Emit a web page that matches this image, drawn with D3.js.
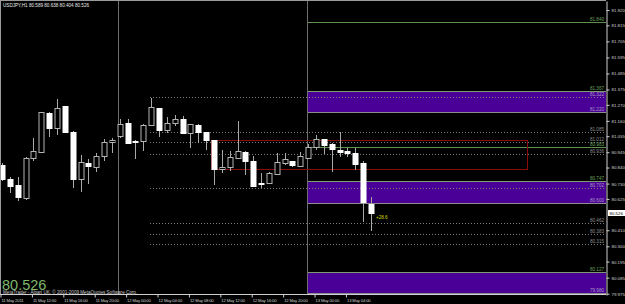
<!DOCTYPE html>
<html>
<head>
<meta charset="utf-8">
<script src="https://cdn.jsdelivr.net/npm/d3@7"></script>
<style>
  html, body { margin: 0; padding: 0; background: #000; }
  svg { display: block; }
  text { font-family: "Liberation Sans", Arial, sans-serif; }
</style>
</head>
<body>
<div id="chart"></div>
<script>
// ============================================================================
// DATA  (USDJPY, H1 candles)
// ============================================================================
const openP  = [80.858, 80.760, 80.719, 80.634, 80.908, 80.947, 81.214, 81.109, 81.260, 81.086,
                80.760, 80.869, 80.846, 80.919, 81.013, 81.054, 81.146, 81.024, 81.020, 81.130,
                81.246, 81.095, 81.143, 81.173, 81.079, 81.134, 81.082, 81.027, 80.830, 80.842,
                80.908, 80.949, 80.887, 80.736, 80.736, 80.798, 80.873, 80.883, 80.853, 80.908,
                80.979, 81.036, 80.999, 80.962, 80.954, 80.942, 80.869, 80.589];
const highP  = [80.870, 80.775, 80.773, 80.910, 81.041, 81.222, 81.220, 81.312, 81.262, 81.090,
                80.926, 80.897, 80.938, 81.034, 81.043, 81.171, 81.171, 81.026, 81.137, 81.315,
                81.249, 81.185, 81.200, 81.191, 81.141, 81.136, 81.084, 81.029, 80.960, 80.954,
                81.159, 80.952, 80.919, 80.803, 80.806, 80.942, 80.938, 80.886, 80.949, 80.999,
                81.063, 81.039, 81.010, 81.082, 80.972, 80.972, 80.887, 80.638];
const lowP   = [80.750, 80.664, 80.613, 80.616, 80.883, 80.944, 81.052, 81.065, 81.075, 80.702,
                80.675, 80.725, 80.812, 80.883, 80.938, 81.043, 81.005, 80.897, 80.954, 81.128,
                81.047, 81.079, 81.123, 81.070, 80.976, 81.008, 80.958, 80.719, 80.805, 80.819,
                80.901, 80.789, 80.713, 80.698, 80.733, 80.795, 80.858, 80.846, 80.850, 80.905,
                80.960, 80.935, 80.812, 80.915, 80.910, 80.823, 80.469, 80.404];
const closeP = [80.762, 80.716, 80.638, 80.908, 80.954, 81.219, 81.113, 81.246, 81.084, 80.760,
                80.878, 80.849, 80.917, 81.013, 81.027, 81.139, 81.010, 81.015, 81.134, 81.253,
                81.095, 81.143, 81.173, 81.079, 81.139, 81.082, 81.027, 80.828, 80.844, 80.910,
                80.954, 80.885, 80.716, 80.727, 80.803, 80.878, 80.897, 80.858, 80.917, 80.981,
                81.034, 80.995, 80.965, 80.949, 80.940, 80.867, 80.602, 80.526];

// price axis and time axis labels
const priceTicks = [81.920, 81.815, 81.705, 81.595, 81.485, 81.375, 81.270, 81.160, 81.055,
                    80.945, 80.840, 80.730, 80.625, 80.410, 80.300, 80.195, 80.085, 79.975];
const timeBars   = [0, 4, 8, 12, 16, 20, 24, 28, 32, 36, 40, 44];
const timeLabels = ["11 May 2011", "11 May 12:00", "11 May 16:00", "11 May 20:00",
                    "12 May 00:00", "12 May 04:00", "12 May 08:00", "12 May 12:00",
                    "12 May 16:00", "12 May 20:00", "13 May 00:00", "13 May 04:00"];

// objects on the chart
const separatorBars = [15, 39];
const zoneTop    = [81.367, 80.747, 80.127];
const zoneBottom = [81.220, 80.600, 79.980];
const zoneTopLabel    = ["81.367", "80.747", "80.127"];
const zoneBottomLabel = ["81.220", "80.600", "79.980"];
const greenLevels = [81.840, 80.983];
const dottedLevels = [81.322, 81.085, 81.012, 80.936, 80.702, 80.462, 80.383, 80.315];
const redBox = { fromBar: 26.65, toBar: 66.9, hi: 81.027, lo: 80.828 };
const lastPrice = 80.526;

// ============================================================================
// SIZE / SCALES
// ============================================================================
const W = 625, H = 304;
const plotRight = 606, plotBottom = 295;

const svg = d3.select('#chart').append('svg')
    .attr('width', W).attr('height', H);

svg.append('rect').attr('width', W).attr('height', H).attr('fill', '#000');

const x = d3.scaleLinear().domain([0, 47]).range([2, 371]);
const y = d3.scaleLinear().domain([79.966, 81.982]).range([plotBottom, 1]);

const zoneStart = Math.round(x(39)) - 1;
const dotStart = Math.round(x(18.85));

// ============================================================================
// ZONES, LEVELS
// ============================================================================
zoneTop.forEach((t, i) => {
    const y0 = Math.round(y(t)) + 0.5, y1 = Math.round(y(zoneBottom[i])) + 0.5;
    svg.append('rect')
        .attr('x', zoneStart).attr('y', y0)
        .attr('width', plotRight - zoneStart).attr('height', y1 - y0)
        .attr('fill', '#4a0096');
    svg.append('line')
        .attr('x1', zoneStart).attr('x2', plotRight).attr('y1', y0).attr('y2', y0)
        .attr('stroke', '#7d9a72').attr('stroke-width', 1);
    svg.append('line')
        .attr('x1', zoneStart).attr('x2', plotRight).attr('y1', y1).attr('y2', y1)
        .attr('stroke', '#8c8c8c').attr('stroke-width', 1);
});

dottedLevels.forEach(p => {
    const yy = Math.round(y(p)) + 0.5;
    svg.append('line')
        .attr('x1', dotStart).attr('x2', plotRight).attr('y1', yy).attr('y2', yy)
        .attr('stroke', '#7a7a7a').attr('stroke-width', 1)
        .attr('stroke-dasharray', '1,2');
});

greenLevels.forEach(p => {
    const yy = Math.round(y(p)) + 0.5;
    svg.append('line')
        .attr('x1', zoneStart).attr('x2', plotRight).attr('y1', yy).attr('y2', yy)
        .attr('stroke', '#5f9150').attr('stroke-width', 1);
});

// separators
separatorBars.forEach(b => {
    const xx = Math.floor(x(b)) - 0.5;
    svg.append('line')
        .attr('x1', xx).attr('x2', xx).attr('y1', 0).attr('y2', plotBottom)
        .attr('stroke', '#6e6e6e').attr('stroke-width', 1);
});

// red rectangle
svg.append('rect')
    .attr('x', Math.round(x(redBox.fromBar)) + 0.5)
    .attr('y', Math.round(y(redBox.hi)) + 0.5)
    .attr('width', Math.round(x(redBox.toBar) - x(redBox.fromBar)))
    .attr('height', Math.round(y(redBox.lo) - y(redBox.hi)))
    .attr('fill', 'none').attr('stroke', '#8b0a0a').attr('stroke-width', 1);

// ============================================================================
// CANDLES
// ============================================================================
const candles = openP.map((o, i) => ({ i, o, h: highP[i], l: lowP[i], c: closeP[i] }));

const cg = svg.append('g');
candles.forEach(d => {
    const cx = Math.round(x(d.i)) + 0.5;
    const bear = d.c < d.o;
    const top = Math.round(y(Math.max(d.o, d.c)));
    const bot = Math.round(y(Math.min(d.o, d.c)));
    cg.append('line')
        .attr('x1', cx).attr('x2', cx)
        .attr('y1', Math.round(y(d.h))).attr('y2', Math.round(y(d.l)))
        .attr('stroke', '#a9a9a9').attr('stroke-width', 1);
    cg.append('rect')
        .attr('x', cx - 2.5).attr('y', top + 0.5)
        .attr('width', 5).attr('height', Math.max(bot - top, 1))
        .attr('fill', bear ? '#ffffff' : '#000000')
        .attr('stroke', bear ? '#ffffff' : '#b4b4b4').attr('stroke-width', 1);
});

// ============================================================================
// LABELS ON LEVELS
// ============================================================================
const lab = (p, txt, col) => svg.append('text')
    .attr('x', plotRight - 2).attr('y', Math.round(y(p)) - 1)
    .attr('text-anchor', 'end').attr('fill', col)
    .style('font-size', '4.6px').text(txt);

greenLevels.forEach(p => lab(p, d3.format('.3f')(p), '#6fa35e'));
zoneTop.forEach((p, i) => lab(p, zoneTopLabel[i], '#6fa35e'));
zoneBottom.forEach((p, i) => lab(p, zoneBottomLabel[i], '#a99cc4'));
dottedLevels.forEach(p => lab(p, d3.format('.3f')(p),
    (p > 81.3 || (p > 80.69 && p < 80.71)) ? '#a99cc4' : '#8f8f8f'));

svg.append('text')
    .attr('x', x(47) + 5).attr('y', y(80.49))
    .attr('fill', '#d8d800').style('font-size', '4.6px').text('+28.6');

// ============================================================================
// AXES
// ============================================================================
svg.append('line').attr('x1', 0).attr('x2', plotRight).attr('y1', 0.5).attr('y2', 0.5)
    .attr('stroke', '#9a9a9a');
svg.append('line').attr('x1', 0.5).attr('x2', 0.5).attr('y1', 0).attr('y2', plotBottom)
    .attr('stroke', '#9a9a9a');

const yAxis = svg.append('g')
    .attr('transform', `translate(${plotRight + 0.5},0)`)
    .call(d3.axisRight(y).tickValues(priceTicks).tickFormat(d3.format('.3f'))
        .tickSize(3).tickPadding(2).tickSizeOuter(0));
yAxis.select('.domain').attr('stroke', '#d0d0d0');
yAxis.selectAll('line').attr('stroke', '#d0d0d0');
yAxis.selectAll('text').attr('fill', '#d0d0d0')
    .style('font-size', '4.4px').style('font-family', '"Liberation Sans", Arial, sans-serif');

// current price tag
svg.append('rect')
    .attr('x', plotRight + 2).attr('y', Math.round(y(lastPrice)) - 3)
    .attr('width', 17).attr('height', 6).attr('fill', '#ffffff');
svg.append('text')
    .attr('x', plotRight + 3.5).attr('y', Math.round(y(lastPrice)) + 1.6)
    .attr('fill', '#000').style('font-size', '4.4px').text(d3.format('.3f')(lastPrice));

const xAxis = svg.append('g')
    .attr('transform', `translate(0,${plotBottom - 0.5})`)
    .call(d3.axisBottom(x).tickValues(timeBars).tickFormat((d, i) => timeLabels[i])
        .tickSize(3).tickSizeOuter(0));
xAxis.select('.domain').attr('d', `M0,0H${plotRight}`).attr('stroke', '#d0d0d0');
xAxis.selectAll('.tick line').attr('stroke', '#d0d0d0')
    .attr('transform', 'translate(-1.5,0)');
xAxis.selectAll('.tick text').attr('fill', '#d0d0d0')
    .attr('text-anchor', 'start').attr('x', -1).attr('y', 7)
    .attr('dy', 0)
    .style('font-size', '4.2px').style('letter-spacing', '-0.15px')
    .style('font-family', '"Liberation Sans", Arial, sans-serif');

// ============================================================================
// TEXTS
// ============================================================================
svg.append('text').attr('x', 3).attr('y', 7)
    .attr('fill', '#e8e8e8').style('font-size', '4.6px')
    .text('USDJPY,H1  80.589 80.638 80.404 80.526');

svg.append('text').attr('x', 2).attr('y', 289.5)
    .attr('fill', '#7fb86c').style('font-size', '14.5px')
    .text(d3.format('.3f')(lastPrice));

svg.append('text').attr('x', 3).attr('y', 294)
    .attr('fill', '#c8c8c8').style('font-size', '4.6px')
    .text('MetaTrader - Alpari UK, \u00a9 2001-2009 MetaQuotes Software Corp.');
</script>
</body>
</html>
